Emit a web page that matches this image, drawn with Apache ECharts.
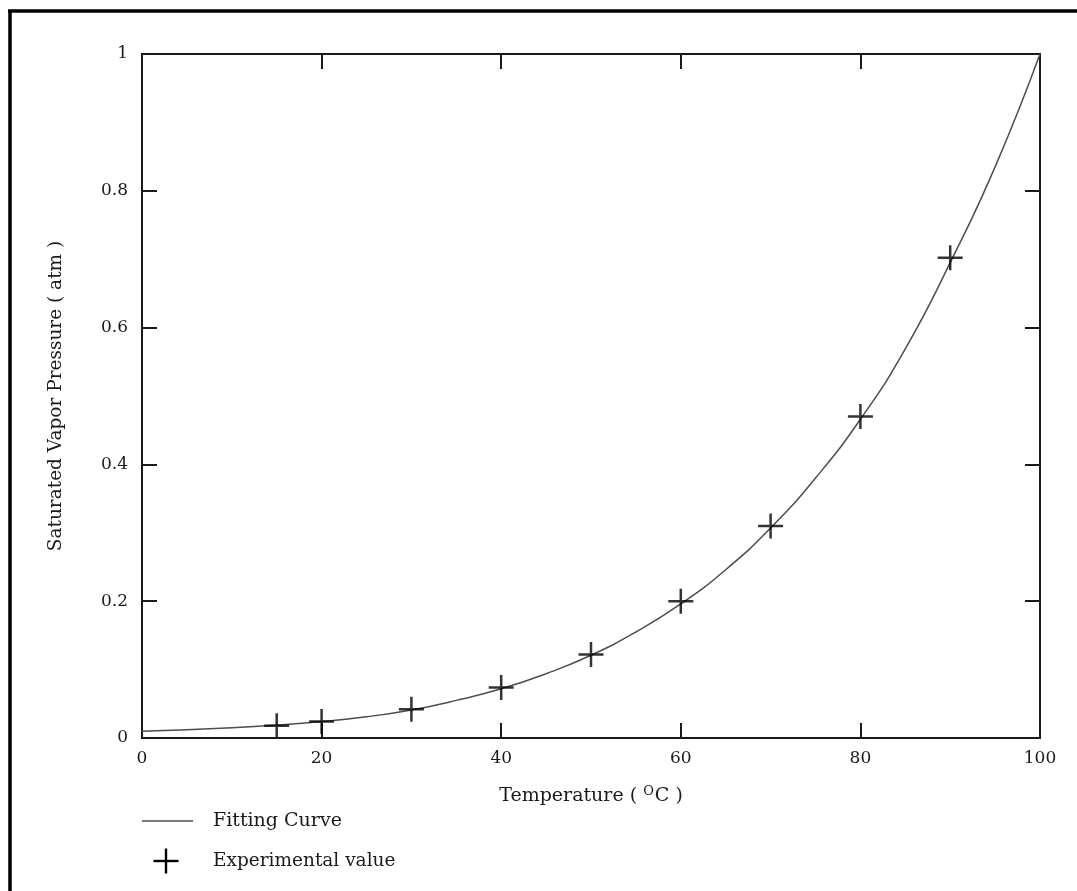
<!DOCTYPE html>
<html>
<head>
<meta charset="utf-8">
<script src="https://cdn.jsdelivr.net/npm/echarts@6/dist/echarts.min.js"></script>
<style>
  html, body { margin: 0; padding: 0; background: #fff; }
  #chart { width: 1077px; height: 891px; }
</style>
</head>
<body>
<div id="chart"></div>
<script>
// Fitted saturated vapor pressure curve of water (temperature in °C, pressure in atm)
const curveTemps = [0, 5, 10, 15, 20, 25, 30, 35, 40, 45, 50, 55, 60, 65, 70, 75, 80, 85, 90, 95, 100];
const curvePressure = [0.010, 0.012, 0.015, 0.019, 0.024, 0.031, 0.041, 0.055, 0.072, 0.094, 0.121,
                       0.155, 0.196, 0.246, 0.307, 0.380, 0.466, 0.569, 0.695, 0.835, 1.0];

// Measured values
const expTemps = [15, 20, 30, 40, 50, 60, 70, 80, 90];
const expPressure = [0.018, 0.024, 0.042, 0.074, 0.122, 0.200, 0.310, 0.470, 0.702];

const xTicks = { min: 0, max: 100, interval: 20 };
const yTicks = { min: 0, max: 1, interval: 0.2 };

const FONT = 'DejaVu Serif';
const INK = '#1a1a1a';
const PLUS = 'path://M0,9H20V11H0Z M9,0H11V20H9Z';

const chart = echarts.init(document.getElementById('chart'), null, { renderer: 'canvas' });

// Every side of the plot box is an axis with inward ticks
const frameAxis = (extra) => Object.assign({
  type: 'value',
  axisLine: { show: true, onZero: false, lineStyle: { color: INK, width: 2 } },
  axisTick: { show: true, inside: true, length: 15, lineStyle: { color: INK, width: 2 } },
  splitLine: { show: false }
}, extra);

chart.setOption({
  animation: false,
  backgroundColor: '#fff',
  grid: { left: 142, right: 37, top: 54, bottom: 153, containLabel: false },
  xAxis: [
    frameAxis({
      position: 'bottom', min: xTicks.min, max: xTicks.max, interval: xTicks.interval,
      axisLabel: { color: INK, fontFamily: FONT, fontSize: 17, margin: 12 },
      name: '{t|Temperature ( }{s|O}{t|C )}',
      nameLocation: 'middle', nameGap: 47,
      nameTextStyle: {
        rich: {
          t: { fontFamily: FONT, fontSize: 19, color: INK },
          s: { fontFamily: FONT, fontSize: 13, color: INK, padding: [0, 1, 10, 0] }
        }
      }
    }),
    frameAxis({
      position: 'top', min: xTicks.min, max: xTicks.max, interval: xTicks.interval,
      axisLabel: { show: false }
    })
  ],
  yAxis: [
    frameAxis({
      position: 'left', min: yTicks.min, max: yTicks.max, interval: yTicks.interval,
      axisLabel: { color: INK, fontFamily: FONT, fontSize: 17, margin: 14 },
      name: 'Saturated Vapor Pressure ( atm )',
      nameLocation: 'middle', nameGap: 76,
      nameTextStyle: { fontFamily: FONT, fontSize: 18.5, color: INK }
    }),
    frameAxis({
      position: 'right', min: yTicks.min, max: yTicks.max, interval: yTicks.interval,
      axisLabel: { show: false }
    })
  ],
  series: [
    {
      name: 'Fitting Curve',
      type: 'line',
      smooth: true,
      showSymbol: false,
      lineStyle: { color: '#4d4d4d', width: 1.5 },
      data: curveTemps.map((t, i) => [t, curvePressure[i]]),
      z: 2
    },
    {
      name: 'Experimental value',
      type: 'scatter',
      symbol: PLUS,
      symbolSize: 25,
      itemStyle: { color: '#000' },
      data: expTemps.map((t, i) => [t, expPressure[i]]),
      z: 3
    }
  ],
  graphic: [
    // page frame (left and top edges)
    { type: 'line', shape: { x1: 10, y1: 10, x2: 10, y2: 891 }, style: { stroke: '#000', lineWidth: 3.5 } },
    { type: 'line', shape: { x1: 8, y1: 11, x2: 1077, y2: 11 }, style: { stroke: '#000', lineWidth: 3.5 } },
    // legend
    { type: 'line', shape: { x1: 142, y1: 821, x2: 193, y2: 821 }, style: { stroke: '#4d4d4d', lineWidth: 1.5 } },
    { type: 'text', x: 213, y: 821, style: { text: 'Fitting Curve', fontFamily: FONT, fontSize: 19, fill: INK, verticalAlign: 'middle' } },
    { type: 'rect', shape: { x: 153.5, y: 859.8, width: 25, height: 2.4 }, style: { fill: '#000' } },
    { type: 'rect', shape: { x: 164.8, y: 848.5, width: 2.4, height: 25 }, style: { fill: '#000' } },
    { type: 'text', x: 213, y: 861, style: { text: 'Experimental value', fontFamily: FONT, fontSize: 18.5, fill: INK, verticalAlign: 'middle' } }
  ]
});
</script>
</body>
</html>
